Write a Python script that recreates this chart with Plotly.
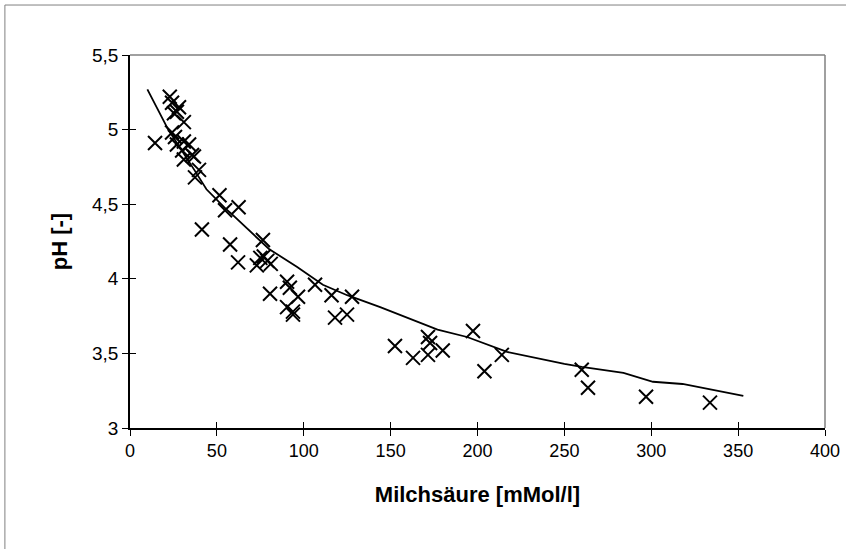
import plotly.graph_objects as go

# Measured data (Milchsäure in mMol/l, pH)
milch = [14.4, 22.9, 24.2, 28.2, 27.0, 25.3, 31.0, 24.2, 25.9, 31.0, 27.0, 34.0, 30.0,
         35.7, 31.0, 36.8, 39.7, 37.4, 51.5, 54.7, 62.5, 41.4, 57.6, 62.2, 76.5,
         73.0, 75.0, 77.0, 79.0, 81.0, 80.6, 90.4, 92.0, 96.7, 90.4, 93.8, 93.8,
         106.5, 116.0, 127.8, 118.0, 124.9, 152.5, 162.9, 171.5, 172.7, 171.5,
         180.0, 197.4, 214.0, 204.0, 260.0, 263.6, 297.0, 333.8]
ph = [4.91, 5.22, 5.18, 5.15, 5.12, 5.11, 5.05, 4.98, 4.95, 4.92, 4.90, 4.90, 4.86,
      4.83, 4.80, 4.82, 4.73, 4.68, 4.56, 4.46, 4.48, 4.33, 4.23, 4.11, 4.26,
      4.09, 4.14, 4.15, 4.12, 4.10, 3.90, 3.98, 3.94, 3.88, 3.81, 3.78, 3.76,
      3.96, 3.89, 3.88, 3.74, 3.76, 3.55, 3.47, 3.61, 3.57, 3.49,
      3.52, 3.65, 3.49, 3.38, 3.39, 3.27, 3.21, 3.17]

# Fitted curve
fit_x = [10, 22, 37, 44, 55, 58, 80, 96, 111, 125, 144, 177, 194, 217, 250, 260,
         284, 301, 318, 353]
fit_y = [5.27, 5.00, 4.73, 4.60, 4.47, 4.44, 4.20, 4.08, 3.96, 3.89, 3.81, 3.66,
         3.61, 3.51, 3.43, 3.41, 3.37, 3.31, 3.295, 3.215]

x_ticks = [0, 50, 100, 150, 200, 250, 300, 350, 400]
y_ticks = [3, 3.5, 4, 4.5, 5, 5.5]

FONT = "Liberation Sans, Arial, sans-serif"

fig = go.Figure()
fig.add_trace(go.Scatter(x=fit_x, y=fit_y, mode="lines",
                         line=dict(color="black", width=1.8), showlegend=False,
                         hoverinfo="skip"))
fig.add_trace(go.Scatter(x=milch, y=ph, mode="markers",
                         marker=dict(symbol="x-thin-open", size=14, color="black",
                                     line=dict(color="black", width=2)),
                         showlegend=False))
# invisible trace to carry the inside-tick axes
fig.add_trace(go.Scatter(x=[0], y=[3], xaxis="x2", yaxis="y2", mode="markers",
                         marker=dict(opacity=0), showlegend=False, hoverinfo="skip"))

common_x = dict(range=[0, 400], tickvals=x_ticks, showgrid=False, zeroline=False)
common_y = dict(range=[3, 5.5], tickvals=y_ticks, showgrid=False, zeroline=False)

fig.update_layout(
    width=846, height=549,
    margin=dict(l=130, r=21, t=55, b=121),
    paper_bgcolor="white", plot_bgcolor="white",
    separators=",.",
    font=dict(family=FONT, color="black", size=18),
    xaxis=dict(**common_x, showline=True, linecolor="black", linewidth=1.5,
               ticks="outside", ticklen=6, tickcolor="black",
               tickfont=dict(size=18), automargin=False,
               title=dict(text="<b>Milchsäure [mMol/l]</b>", font=dict(size=22),
                          standoff=26)),
    yaxis=dict(**common_y, showline=True, linecolor="black", linewidth=1.5,
               ticks="outside", ticklen=6, tickcolor="black",
               tickformat=".1~f", automargin=False,
               tickfont=dict(size=19),
               title=dict(text="<b>pH [-]</b>", font=dict(size=22), standoff=18)),
    xaxis2=dict(**common_x, overlaying="x", showline=False, ticks="inside",
                ticklen=6, tickcolor="black", showticklabels=False),
    yaxis2=dict(**common_y, overlaying="y", showline=False, ticks="inside",
                ticklen=6, tickcolor="black", showticklabels=False),
    shapes=[
        # plot-area border (top and right) in gray
        dict(type="line", xref="paper", yref="paper", x0=0, x1=1, y0=1, y1=1,
             line=dict(color="#808080", width=1.5)),
        dict(type="line", xref="paper", yref="paper", x0=1, x1=1, y0=0, y1=1,
             line=dict(color="#808080", width=1.5)),
        # outer chart-area border (left and top edges visible)
        dict(type="line", xref="paper", yref="paper", x0=-0.18, x1=-0.18,
             y0=-0.5, y1=1.134, line=dict(color="#808080", width=1)),
        dict(type="line", xref="paper", yref="paper", x0=-0.18, x1=1.2,
             y0=1.134, y1=1.134, line=dict(color="#808080", width=1)),
    ],
)

fig.write_html("out.html")
